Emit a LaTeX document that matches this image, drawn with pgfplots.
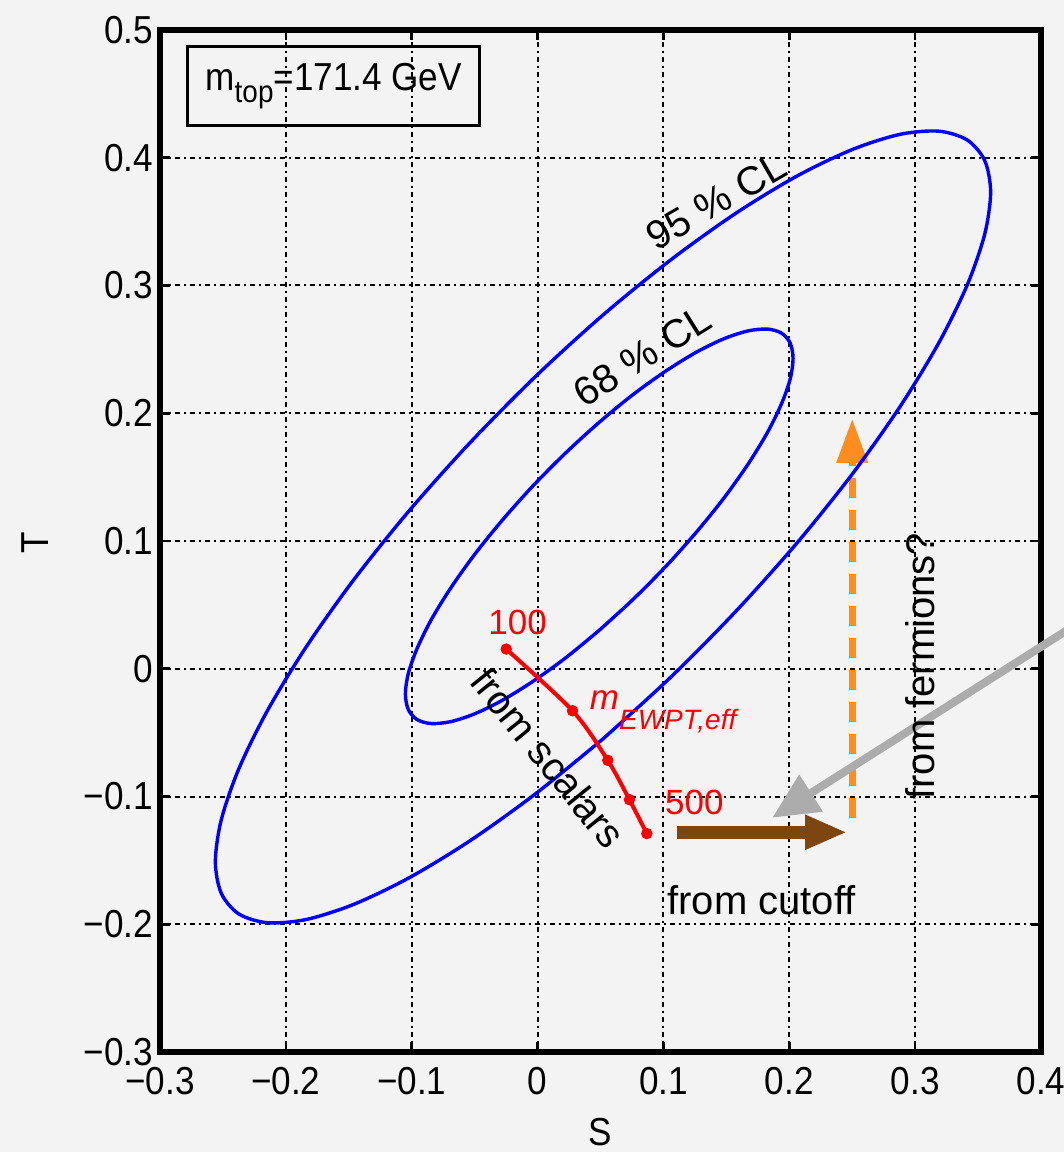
\documentclass[border=0pt]{standalone}
\usepackage{pgfplots}
\pgfplotsset{compat=1.18}
\usepackage{fontspec}
\setmainfont{Liberation Sans}
\newfontfamily\narrowfont{Liberation Sans}[FakeStretch=0.9]
\usetikzlibrary{arrows.meta}
\definecolor{bg}{RGB}{243,243,243}
\definecolor{myblue}{RGB}{0,0,255}
\definecolor{myred}{RGB}{255,0,0}
\definecolor{mybrown}{RGB}{125,70,15}
\definecolor{myorange}{RGB}{255,140,30}
\definecolor{mygray}{RGB}{172,172,172}
\newcommand\tickfont{\narrowfont\fontsize{19.5}{23}\selectfont}
\newcommand\txtfont{\fontsize{20}{24}\selectfont}
\newcommand\redfont{\fontsize{17.5}{21}\selectfont}
\begin{document}
\begin{tikzpicture}
\path[use as bounding box, fill=bg] (-80pt,-50pt) rectangle (452pt,526pt);
\begin{axis}[
  scale only axis, width=440.5pt, height=511pt,
  xmin=-0.3, xmax=0.4, ymin=-0.3, ymax=0.5,
  xtick={-0.3,-0.2,-0.1,0,0.1,0.2,0.3,0.4},
  xticklabels={−0.3,−0.2,−0.1,0,0.1,0.2,0.3,0.4},
  ytick={-0.3,-0.2,-0.1,0,0.1,0.2,0.3,0.4,0.5},
  yticklabels={−0.3,−0.2,−0.1,0,0.1,0.2,0.3,0.4,0.5},
  tick label style={font=\tickfont, black},
  xticklabel style={yshift=-4pt},
  grid=major,
  major grid style={black, line width=1pt, dash pattern=on 2.6pt off 2pt on 0.9pt off 2pt},
  axis line style={black, line width=2.7pt},
  tick align=inside, major tick length=5pt,
  every tick/.style={black, line width=1.3pt},
  xlabel={S}, ylabel={T},
  label style={font=\tickfont},
  xlabel style={at={(axis description cs:0.4994,-0.078)}, anchor=center},
  ylabel style={at={(axis description cs:-0.142,0.498)}, anchor=center},
  clip=false,
]
% arrows
\addplot[myorange, line width=3.5pt, dash pattern=on 10pt off 6pt, -{Triangle[length=22pt,width=15pt]}]
  coordinates {(0.25,-0.1166) (0.25,0.1956)};
\addplot[mybrown, line width=6.5pt, -{Triangle[length=21pt,width=16pt]}]
  coordinates {(0.111,-0.128) (0.246,-0.128)};
% 95% CL ellipse
\addplot[myblue, line width=1.7pt, smooth] coordinates {
(0.0520,-0.0549) (0.1055,-0.0069) (0.1573,0.0447) (0.2060,0.0983) (0.2500,0.1523) (0.2879,0.2050)
(0.3187,0.2549) (0.3414,0.3004) (0.3553,0.3402) (0.3600,0.3730) (0.3553,0.3978) (0.3414,0.4139)
(0.3187,0.4208) (0.2879,0.4183) (0.2500,0.4064) (0.2060,0.3856) (0.1573,0.3564) (0.1055,0.3198)
(0.0520,0.2769) (-0.0015,0.2289) (-0.0533,0.1773) (-0.1020,0.1237) (-0.1460,0.0697) (-0.1839,0.0170)
(-0.2147,-0.0329) (-0.2374,-0.0784) (-0.2513,-0.1182) (-0.2560,-0.1510) (-0.2513,-0.1758) (-0.2374,-0.1919)
(-0.2147,-0.1988) (-0.1839,-0.1963) (-0.1460,-0.1844) (-0.1020,-0.1636) (-0.0533,-0.1344) (-0.0015,-0.0978)
(0.0520,-0.0549)};
% 68% CL ellipse
\addplot[myblue, line width=1.7pt, smooth] coordinates {
(0.0490,0.0301) (0.0757,0.0541) (0.1017,0.0799) (0.1260,0.1067) (0.1480,0.1335) (0.1670,0.1598)
(0.1824,0.1845) (0.1937,0.2071) (0.2007,0.2267) (0.2030,0.2428) (0.2007,0.2550) (0.1937,0.2628)
(0.1824,0.2659) (0.1670,0.2644) (0.1480,0.2583) (0.1260,0.2477) (0.1017,0.2329) (0.0757,0.2145)
(0.0490,0.1929) (0.0223,0.1689) (-0.0037,0.1431) (-0.0280,0.1163) (-0.0500,0.0895) (-0.0690,0.0632)
(-0.0844,0.0385) (-0.0957,0.0159) (-0.1027,-0.0037) (-0.1050,-0.0198) (-0.1027,-0.0320) (-0.0957,-0.0398)
(-0.0844,-0.0429) (-0.0690,-0.0414) (-0.0500,-0.0353) (-0.0280,-0.0247) (-0.0037,-0.0099) (0.0223,0.0085)
(0.0490,0.0301)};
% gray arrow
\addplot[mygray, line width=4pt, -{Triangle[length=23pt,width=21pt]}]
  coordinates {(0.43,0.036) (0.1865,-0.1166)};
% red curve
\addplot[myred, line width=2pt, smooth, mark=*, mark size=2.6pt, mark options={fill=myred, draw=myred, line width=0.5pt}]
  coordinates {(-0.0249,0.0154) (0.0278,-0.0329) (0.0558,-0.0717) (0.0730,-0.1025) (0.0868,-0.1290)};
% texts
\node[font=\txtfont, rotate=30] at (axis cs:0.142,0.366) {95 \% CL};
\node[font=\txtfont, rotate=32] at (axis cs:0.0833,0.245) {68 \% CL};
\node[font=\txtfont, rotate=-51] at (axis cs:0.0085,-0.0696) {from scalars};
\node[font=\txtfont] at (axis cs:0.178,-0.181) {from cutoff};
\node[font=\txtfont, rotate=90] at (axis cs:0.304,0.002) {from fermions?};
\node[font=\redfont, text=myred] at (axis cs:-0.0159,0.036) {100};
\node[font=\redfont, text=myred] at (axis cs:0.1246,-0.1049) {500};
\node[anchor=base west, inner sep=0pt, text=myred] at (axis cs:0.0413,-0.0321)
  {\redfont\itshape m\raisebox{-10pt}{\fontsize{14}{16}\selectfont\itshape EWPT,eff}};
\node[draw=black, line width=1.3pt, minimum width=146pt, minimum height=39.5pt, inner sep=0pt, font=\tickfont]
  at (axis cs:-0.162,0.456)
  {m\raisebox{-6pt}{\narrowfont\fontsize{15.5}{17}\selectfont top}=171.4 GeV};
\end{axis}
\end{tikzpicture}
\end{document}
